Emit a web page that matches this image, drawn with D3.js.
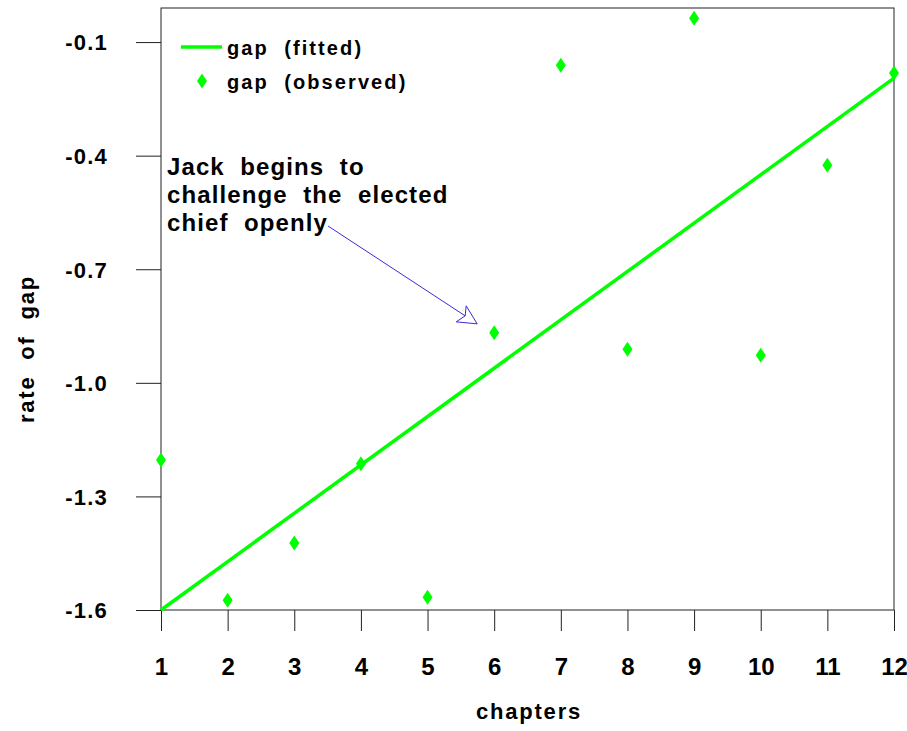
<!DOCTYPE html>
<html>
<head>
<meta charset="utf-8">
<script src="https://cdn.jsdelivr.net/npm/d3@7"></script>
<style>
  html, body { margin: 0; padding: 0; background: #fff; }
  svg { display: block; font-family: "Liberation Sans", Arial, sans-serif; font-weight: bold; }
</style>
</head>
<body>
<svg id="chart" width="907" height="731"></svg>
<script>
// ---- data ----
const chapters = [1, 2, 3, 4, 5, 6, 7, 8, 9, 10, 11, 12];
const observed = [-1.204, -1.574, -1.423, -1.214, -1.566, -0.868, -0.161, -0.911, -0.037, -0.927, -0.425, -0.182];
const fittedX = [1, 12];
const fittedY = [-1.600, -0.195];
const yTicks = [-1.6, -1.3, -1.0, -0.7, -0.4, -0.1];
const xTicks = [1, 2, 3, 4, 5, 6, 7, 8, 9, 10, 11, 12];
const legendLabels = ["gap (fitted)", "gap (observed)"];
const annotationLines = ["Jack begins to", "challenge the elected", "chief openly"];
const xTitle = "chapters";
const yTitle = "rate of gap";

(function () {
// ---- layout ----
const pL = 161, pR = 894, pT = 8, pB = 610;
const green = "#00ff00";
const svg = d3.select("#chart");

const x = d3.scaleLinear().domain([1, 12]).range([pL, pR]);
const y = d3.scaleLinear().domain([-1.6, -0.01]).range([pB, pT]);

// frame
svg.append("rect")
  .attr("x", pL).attr("y", pT)
  .attr("width", pR - pL).attr("height", pB - pT)
  .attr("fill", "none").attr("stroke", "#222").attr("stroke-width", 1);

// y axis
const yAxis = svg.append("g")
  .attr("transform", `translate(${pL},0)`)
  .call(d3.axisLeft(y).tickValues(yTicks).tickSize(25).tickPadding(28)
        .tickFormat(d => d.toFixed(1)));
yAxis.select(".domain").remove();
yAxis.selectAll(".tick line").attr("stroke", "#222");
yAxis.selectAll(".tick text")
  .attr("font-family", "Liberation Sans, Arial, sans-serif")
  .attr("font-weight", "bold")
  .attr("font-size", 22)
  .attr("letter-spacing", 1.2)
  .attr("fill", "#000")
  .attr("dy", "0.36em");

// x axis
const xAxis = svg.append("g")
  .attr("transform", `translate(0,${pB})`)
  .call(d3.axisBottom(x).tickValues(xTicks).tickSize(21).tickPadding(27)
        .tickFormat(d => String(d)));
xAxis.select(".domain").remove();
xAxis.selectAll(".tick line").attr("stroke", "#222");
xAxis.selectAll(".tick text")
  .attr("font-family", "Liberation Sans, Arial, sans-serif")
  .attr("font-weight", "bold")
  .attr("font-size", 24)
  .attr("fill", "#000")
  .attr("dy", "0.71em");

// axis titles
svg.append("text")
  .attr("x", 529).attr("y", 719)
  .attr("text-anchor", "middle")
  .attr("font-size", 22).attr("letter-spacing", 1.8)
  .text(xTitle);
svg.append("text")
  .attr("transform", "translate(34,349) rotate(-90)")
  .attr("text-anchor", "middle")
  .attr("font-size", 22).attr("letter-spacing", 1.8)
  .style("white-space", "pre")
  .text(yTitle.replace(/ /g, "  "));

// fitted line
svg.append("path")
  .datum(fittedX.map((d, i) => [d, fittedY[i]]))
  .attr("fill", "none").attr("stroke", green).attr("stroke-width", 3.5)
  .attr("d", d3.line().x(d => x(d[0])).y(d => y(d[1])));

// observed diamonds
const diamond = "M0,-7.5L5,0L0,7.5L-5,0Z";
svg.append("g").selectAll("path")
  .data(chapters.map((c, i) => [c, observed[i]]))
  .join("path")
  .attr("transform", d => `translate(${x(d[0])},${y(d[1])})`)
  .attr("d", diamond)
  .attr("fill", green);

// legend
svg.append("line")
  .attr("x1", 181).attr("x2", 222).attr("y1", 47).attr("y2", 47)
  .attr("stroke", green).attr("stroke-width", 3.5);
svg.append("path")
  .attr("transform", "translate(202,81)")
  .attr("d", diamond).attr("fill", green);
svg.append("g").selectAll("text")
  .data(legendLabels)
  .join("text")
  .attr("x", 227).attr("y", (d, i) => 55 + i * 34)
  .attr("font-size", 20).attr("letter-spacing", 2.1)
  .style("white-space", "pre")
  .text(d => d.replace(" ", "  "));

// annotation
svg.append("g").selectAll("text")
  .data(annotationLines)
  .join("text")
  .attr("x", 167).attr("y", (d, i) => 175 + i * 28)
  .attr("font-size", 24).attr("letter-spacing", 1.1)
  .style("white-space", "pre")
  .text(d => d.replace(/ /g, "  "));

// arrow (annotation points to chapter 6 observation)
const ax0 = 328, ay0 = 226;
const tipX = x(chapters[5]) - 17, tipY = y(observed[5]) - 9;
svg.append("line")
  .attr("x1", ax0).attr("y1", ay0).attr("x2", tipX - 12).attr("y2", tipY - 8)
  .attr("stroke", "#3a2bd6").attr("stroke-width", 1);
svg.append("path")
  .attr("d", `M${tipX},${tipY}L${tipX - 11},${tipY - 18}L${tipX - 12},${tipY - 8}L${tipX - 21},${tipY - 2}Z`)
  .attr("fill", "#fff").attr("stroke", "#3a2bd6").attr("stroke-width", 1);
})();
</script>
</body>
</html>
